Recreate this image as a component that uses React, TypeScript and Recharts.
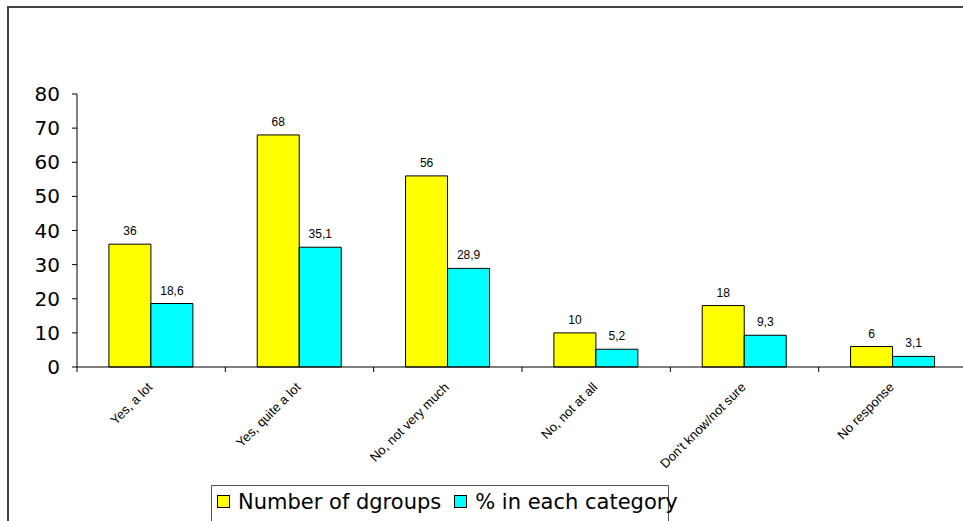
// Survey answers: count of dgroups and share per category

import { BarChart, Bar, XAxis, YAxis, LabelList, Legend } from 'recharts';

const categories = [
    'Yes, a lot',
    'Yes, quite a lot',
    'No, not very much',
    'No, not at all',
    "Don't know/not sure",
    'No response',
];
const groupCounts = [36, 68, 56, 10, 18, 6];
const percentages = [18.6, 35.1, 28.9, 5.2, 9.3, 3.1];
const yTicks = [0, 10, 20, 30, 40, 50, 60, 70, 80];

const data = categories.map((name, i) => ({
    name,
    count: groupCounts[i],
    pct: percentages[i],
}));

const YELLOW = '#FFFF00';
const CYAN = '#00FFFF';

const commaDecimal = (v: any) => String(v).replace('.', ',');

// category label, slanted, plus the tick marks that sit between categories
function SlantedTick({ x, y, payload, index, visibleTicksCount }: any) {
    const half = payload && payload.offset ? payload.offset : 74;
    const ax = x + 2;
    const ay = y + 13;
    const lineTop = 367;
    return (
        <g>
            <line x1={x - half} x2={x - half} y1={lineTop} y2={lineTop + 5} stroke="#000" />
            {index === visibleTicksCount - 1 && (
                <line x1={x + half} x2={x + half} y1={lineTop} y2={lineTop + 5} stroke="#000" />
            )}
            <text
                x={ax}
                y={ay}
                transform={`rotate(-45, ${ax}, ${ay})`}
                textAnchor="end"
                fontSize={13}
                fontFamily="'Liberation Sans', Arial, sans-serif"
                fill="#000"
            >
                {payload.value}
            </text>
        </g>
    );
}

function LegendBox() {
    const item = (color: string, label: string, gapAfter: number) => (
        <span style={{ display: 'inline-flex', alignItems: 'center', marginRight: gapAfter }}>
            <span
                style={{
                    width: 11,
                    height: 11,
                    background: color,
                    border: '1px solid #000',
                    marginRight: 8,
                }}
            />
            {label}
        </span>
    );
    return (
        <div
            style={{
                border: '1px solid #555',
                background: '#fff',
                padding: '3px 0 6px 5px',
                fontFamily: "'DejaVu Sans', Verdana, sans-serif",
                fontSize: 21,
                color: '#000',
                whiteSpace: 'nowrap',
                width: 458,
                height: 40,
                boxSizing: 'border-box',
            }}
        >
            {item(YELLOW, 'Number of dgroups', 13)}
            {item(CYAN, '% in each category', 0)}
        </div>
    );
}

export default function App() {
    return (
        <div style={{ position: 'absolute', left: 0, top: 0, width: 963, height: 521, background: '#fff', overflow: 'hidden' }}>
            <div
                style={{
                    position: 'absolute',
                    left: 7,
                    top: 6,
                    width: 960,
                    height: 520,
                    borderTop: '2px solid #444',
                    borderLeft: '2px solid #444',
                }}
            />
            <BarChart
                width={963}
                height={521}
                data={data}
                margin={{ top: 94, right: -4, left: 0, bottom: 0 }}
                barGap={0}
                barCategoryGap="21.5%"
            >
                <XAxis
                    dataKey="name"
                    height={154}
                    interval={0}
                    tickLine={false}
                    axisLine={{ stroke: '#000' }}
                    tick={<SlantedTick />}
                />
                <YAxis
                    width={77}
                    domain={[0, 80]}
                    ticks={yTicks}
                    tickSize={5}
                    tickMargin={12}
                    axisLine={{ stroke: '#000' }}
                    tickLine={{ stroke: '#000' }}
                    tick={{ fill: '#000', fontSize: 20, fontFamily: "'DejaVu Sans', Verdana, sans-serif" }}
                />
                <Legend
                    layout="horizontal"
                    verticalAlign="middle"
                    align="center"
                    wrapperStyle={{ top: 485, left: 211, width: 460 }}
                    content={<LegendBox />}
                />
                <Bar dataKey="count" name="Number of dgroups" fill={YELLOW} stroke="#000" strokeWidth={1} isAnimationActive={false}>
                    <LabelList
                        dataKey="count"
                        position="top"
                        offset={9}
                        fontSize={12}
                        fontFamily="'Liberation Sans', Arial, sans-serif"
                        fill="#000"
                    />
                </Bar>
                <Bar dataKey="pct" name="% in each category" fill={CYAN} stroke="#000" strokeWidth={1} isAnimationActive={false}>
                    <LabelList
                        dataKey="pct"
                        position="top"
                        offset={9}
                        fontSize={12}
                        fontFamily="'Liberation Sans', Arial, sans-serif"
                        fill="#000"
                        formatter={commaDecimal}
                    />
                </Bar>
            </BarChart>
        </div>
    );
}
